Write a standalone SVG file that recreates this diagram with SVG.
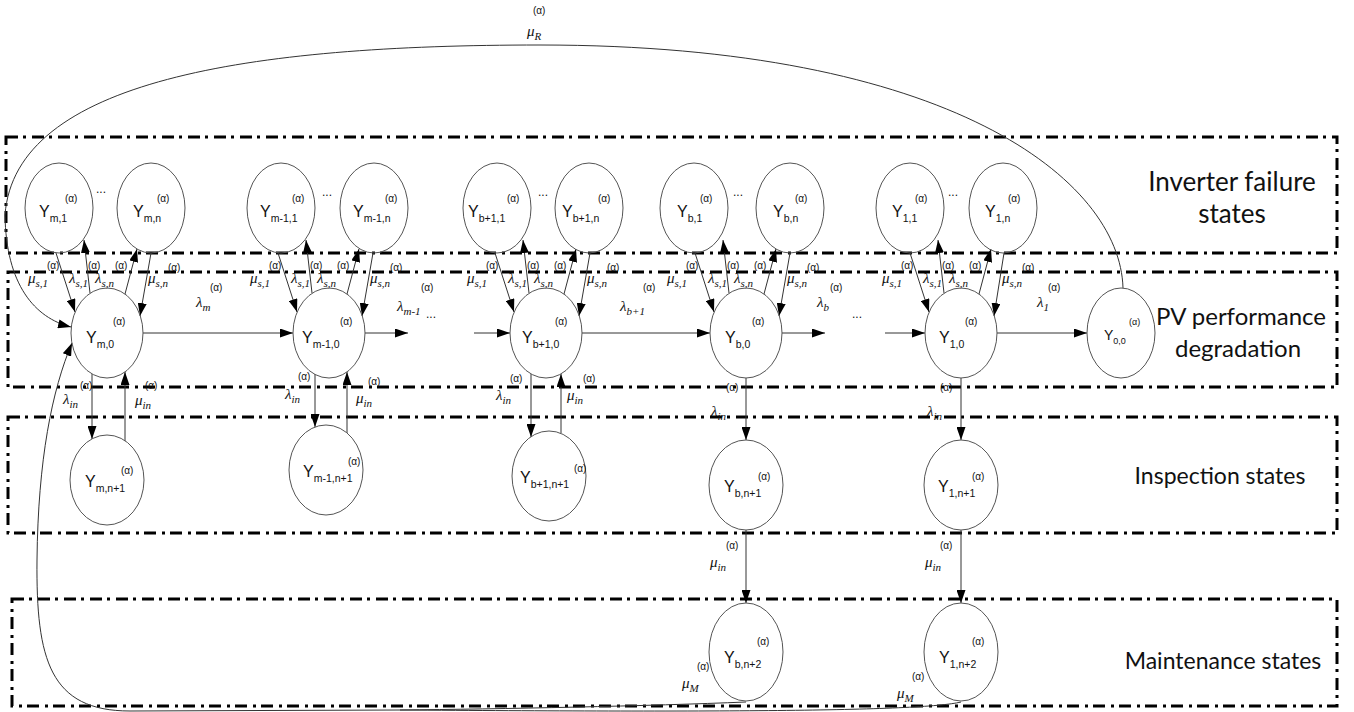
<svg xmlns="http://www.w3.org/2000/svg" width="1354" height="712" viewBox="0 0 1354 712">
<defs>
<marker id="ah" viewBox="0 0 13 9" refX="13" refY="4.5" markerWidth="13" markerHeight="9" markerUnits="userSpaceOnUse" orient="auto"><path d="M0,0 L13,4.5 L0,9 z" fill="#000"/></marker>
</defs>
<style>
.box{fill:none;stroke:#000;stroke-width:3;stroke-dasharray:12 5 3 6}
.nd{fill:none;stroke:#555;stroke-width:1}
.Y{font-family:"Liberation Sans",Arial,sans-serif;font-size:16px;fill:#111}
.sb{font-size:10.5px}
.al{font-family:"Liberation Sans",Arial,sans-serif;font-size:10px;fill:#111}
.g{font-family:"Liberation Serif","Times New Roman",serif;font-style:italic;font-size:15px;fill:#111}
.gs{font-size:11px}
.ln{fill:none;stroke:#333;stroke-width:1}
.ar{marker-end:url(#ah)}
.rt{font-family:Lato,"Open Sans",sans-serif;font-size:25px;fill:#111;text-anchor:middle}
.dt{font-family:"Liberation Sans",Arial,sans-serif;font-size:12px;fill:#111}
</style>
<rect width="1354" height="712" fill="#fff"/>

<g id="regions">
<rect class="box" x="6" y="137" width="1331" height="116"/>
<rect class="box" x="8" y="272" width="1329" height="115"/>
<rect class="box" x="8" y="417" width="1329" height="116"/>
<rect class="box" x="12" y="599" width="1325" height="107"/>
<text class="rt" x="1232" y="191" style="font-size:26px">Inverter failure</text>
<text class="rt" x="1232" y="223" style="font-size:26px">states</text>
<text class="rt" x="1241" y="325" style="font-size:24px">PV performance</text>
<text class="rt" x="1238" y="357" style="font-size:24px">degradation</text>
<text class="rt" x="1220" y="484" style="font-size:23px">Inspection states</text>
<text class="rt" x="1223" y="669" style="font-size:23px">Maintenance states</text>
</g>

<g id="connectors">
<!-- group m, p=107 -->
<line class="ln ar" x1="56" y1="253" x2="75" y2="312"/>
<line class="ln ar" x1="90" y1="293" x2="84" y2="240"/>
<line class="ln ar" x1="125" y1="294" x2="137" y2="249"/>
<line class="ln ar" x1="151" y1="253" x2="140" y2="316"/>
<!-- group m-1, p=329 -->
<line class="ln ar" x1="278" y1="253" x2="297" y2="312"/>
<line class="ln ar" x1="312" y1="293" x2="306" y2="240"/>
<line class="ln ar" x1="347" y1="294" x2="359" y2="249"/>
<line class="ln ar" x1="373" y1="253" x2="362" y2="316"/>
<!-- group b+1, p=546 -->
<line class="ln ar" x1="495" y1="253" x2="514" y2="312"/>
<line class="ln ar" x1="529" y1="293" x2="523" y2="240"/>
<line class="ln ar" x1="564" y1="294" x2="576" y2="249"/>
<line class="ln ar" x1="590" y1="253" x2="579" y2="316"/>
<!-- group b, p=746 -->
<line class="ln ar" x1="695" y1="253" x2="714" y2="312"/>
<line class="ln ar" x1="729" y1="293" x2="723" y2="240"/>
<line class="ln ar" x1="764" y1="294" x2="776" y2="249"/>
<line class="ln ar" x1="790" y1="253" x2="779" y2="316"/>
<!-- group 1, p=961 -->
<line class="ln ar" x1="910" y1="253" x2="929" y2="312"/>
<line class="ln ar" x1="944" y1="293" x2="938" y2="240"/>
<line class="ln ar" x1="979" y1="294" x2="991" y2="249"/>
<line class="ln ar" x1="1004" y1="253" x2="994" y2="316"/>
<!-- horizontal chain -->
<line class="ln ar" x1="143" y1="333" x2="293" y2="333"/>
<line class="ln ar" x1="365" y1="333" x2="408" y2="333"/>
<line class="ln ar" x1="474" y1="333" x2="510" y2="333"/>
<line class="ln ar" x1="582" y1="333" x2="710" y2="333"/>
<line class="ln ar" x1="782" y1="333" x2="825" y2="333"/>
<line class="ln ar" x1="885" y1="333" x2="925" y2="333"/>
<line class="ln ar" x1="997" y1="333" x2="1087" y2="333"/>
<!-- PV <-> inspection -->
<line class="ln ar" x1="92" y1="374" x2="92" y2="439"/>
<line class="ln ar" x1="125" y1="441" x2="125" y2="372"/>
<line class="ln ar" x1="315" y1="374" x2="315" y2="427"/>
<line class="ln ar" x1="347" y1="433" x2="347" y2="372"/>
<line class="ln ar" x1="531" y1="374" x2="531" y2="437"/>
<line class="ln ar" x1="561" y1="433" x2="561" y2="374"/>
<line class="ln ar" x1="746" y1="378" x2="746" y2="440"/>
<line class="ln ar" x1="961" y1="378" x2="961" y2="440"/>
<!-- inspection -> maintenance -->
<line class="ln ar" x1="746" y1="530" x2="746" y2="603"/>
<line class="ln ar" x1="961" y1="530" x2="961" y2="603"/>
<!-- repair curve -->
<path class="ln ar" d="M1123,288 C1120,180 950,45 540,45 C250,45 15,80 5,215 C6,285 35,318 71,327"/>
<!-- maintenance back curves -->
<path class="ln ar" d="M746,702 C650,706 500,709 400,710 L130,711 C50,711 36,660 37,560 C38,460 52,390 72,343"/>
<path class="ln" d="M961,702 C920,712 700,712 400,710"/>
</g>

<g id="labels">
<!-- group m -->
<text class="al" x="47" y="269">(α)</text><text class="g" x="28" y="283">μ<tspan class="gs" dy="4">s,1</tspan></text>
<text class="al" x="88" y="269">(α)</text><text class="g" x="69" y="283">λ<tspan class="gs" dy="4">s,1</tspan></text>
<text class="al" x="115" y="269">(α)</text><text class="g" x="95" y="283">λ<tspan class="gs" dy="4">s,n</tspan></text>
<text class="al" x="168" y="271">(α)</text><text class="g" x="148" y="283">μ<tspan class="gs" dy="4">s,n</tspan></text>
<!-- group m-1 -->
<text class="al" x="269" y="269">(α)</text><text class="g" x="250" y="283">μ<tspan class="gs" dy="4">s,1</tspan></text>
<text class="al" x="310" y="269">(α)</text><text class="g" x="291" y="283">λ<tspan class="gs" dy="4">s,1</tspan></text>
<text class="al" x="337" y="269">(α)</text><text class="g" x="317" y="283">λ<tspan class="gs" dy="4">s,n</tspan></text>
<text class="al" x="390" y="271">(α)</text><text class="g" x="370" y="283">μ<tspan class="gs" dy="4">s,n</tspan></text>
<!-- group b+1 -->
<text class="al" x="486" y="269">(α)</text><text class="g" x="467" y="283">μ<tspan class="gs" dy="4">s,1</tspan></text>
<text class="al" x="527" y="269">(α)</text><text class="g" x="508" y="283">λ<tspan class="gs" dy="4">s,1</tspan></text>
<text class="al" x="554" y="269">(α)</text><text class="g" x="534" y="283">λ<tspan class="gs" dy="4">s,n</tspan></text>
<text class="al" x="607" y="271">(α)</text><text class="g" x="587" y="283">μ<tspan class="gs" dy="4">s,n</tspan></text>
<!-- group b -->
<text class="al" x="686" y="269">(α)</text><text class="g" x="667" y="283">μ<tspan class="gs" dy="4">s,1</tspan></text>
<text class="al" x="727" y="269">(α)</text><text class="g" x="708" y="283">λ<tspan class="gs" dy="4">s,1</tspan></text>
<text class="al" x="754" y="269">(α)</text><text class="g" x="734" y="283">λ<tspan class="gs" dy="4">s,n</tspan></text>
<text class="al" x="807" y="271">(α)</text><text class="g" x="787" y="283">μ<tspan class="gs" dy="4">s,n</tspan></text>
<!-- group 1 -->
<text class="al" x="901" y="269">(α)</text><text class="g" x="882" y="283">μ<tspan class="gs" dy="4">s,1</tspan></text>
<text class="al" x="942" y="269">(α)</text><text class="g" x="923" y="283">λ<tspan class="gs" dy="4">s,1</tspan></text>
<text class="al" x="969" y="269">(α)</text><text class="g" x="949" y="283">λ<tspan class="gs" dy="4">s,n</tspan></text>
<text class="al" x="1022" y="271">(α)</text><text class="g" x="1002" y="283">μ<tspan class="gs" dy="4">s,n</tspan></text>
<!-- chain labels -->
<text class="al" x="210" y="291">(α)</text><text class="g" x="196" y="307">λ<tspan class="gs" dy="4">m</tspan></text>
<text class="al" x="421" y="291">(α)</text><text class="g" x="397" y="311">λ<tspan class="gs" dy="4">m-1</tspan></text>
<text class="dt" x="426" y="318">...</text>
<text class="al" x="643" y="291">(α)</text><text class="g" x="620" y="311">λ<tspan class="gs" dy="4">b+1</tspan></text>
<text class="al" x="830" y="291">(α)</text><text class="g" x="817" y="307">λ<tspan class="gs" dy="4">b</tspan></text>
<text class="dt" x="852" y="318">...</text>
<text class="al" x="1048" y="291">(α)</text><text class="g" x="1037" y="307">λ<tspan class="gs" dy="4">1</tspan></text>
<!-- inspection labels -->
<text class="al" x="80" y="389">(α)</text><text class="g" x="63" y="404">λ<tspan class="gs" dy="4">in</tspan></text>
<text class="al" x="145" y="389">(α)</text><text class="g" x="135" y="405">μ<tspan class="gs" dy="4">in</tspan></text>
<text class="al" x="298" y="380">(α)</text><text class="g" x="285" y="399">λ<tspan class="gs" dy="4">in</tspan></text>
<text class="al" x="368" y="385">(α)</text><text class="g" x="356" y="403">μ<tspan class="gs" dy="4">in</tspan></text>
<text class="al" x="510" y="382">(α)</text><text class="g" x="496" y="400">λ<tspan class="gs" dy="4">in</tspan></text>
<text class="al" x="583" y="382">(α)</text><text class="g" x="567" y="400">μ<tspan class="gs" dy="4">in</tspan></text>
<text class="al" x="726" y="391">(α)</text><text class="g" x="711" y="416">λ<tspan class="gs" dy="4">in</tspan></text>
<text class="al" x="940" y="391">(α)</text><text class="g" x="927" y="416">λ<tspan class="gs" dy="4">in</tspan></text>
<text class="al" x="726" y="549">(α)</text><text class="g" x="710" y="567">μ<tspan class="gs" dy="4">in</tspan></text>
<text class="al" x="940" y="549">(α)</text><text class="g" x="925" y="567">μ<tspan class="gs" dy="4">in</tspan></text>
<text class="al" x="697" y="670">(α)</text><text class="g" x="682" y="688">μ<tspan class="gs" dy="4">M</tspan></text>
<text class="al" x="912" y="680">(α)</text><text class="g" x="897" y="698">μ<tspan class="gs" dy="4">M</tspan></text>
<text class="al" x="533" y="14">(α)</text><text class="g" x="527" y="36">μ<tspan class="gs" dy="4">R</tspan></text>
<!-- dots between inverter states -->
<text class="dt" x="96" y="193">...</text>
<text class="dt" x="322" y="196">...</text>
<text class="dt" x="538" y="196">...</text>
<text class="dt" x="733" y="196">...</text>
<text class="dt" x="948" y="196">...</text>
</g>

<!-- inverter failure states -->
<g id="n-m1"><ellipse class="nd" cx="59" cy="208" rx="34" ry="45"/><text class="Y" x="39" y="217">Y<tspan class="sb" dy="5">m,1</tspan></text><text class="al" x="65" y="202">(α)</text></g>
<g id="n-mn"><ellipse class="nd" cx="151" cy="208" rx="34" ry="45"/><text class="Y" x="133" y="217">Y<tspan class="sb" dy="5">m,n</tspan></text><text class="al" x="157" y="202">(α)</text></g>
<g id="n-m-1_1"><ellipse class="nd" cx="281" cy="208" rx="34" ry="45"/><text class="Y" x="260" y="217">Y<tspan class="sb" dy="5">m-1,1</tspan></text><text class="al" x="292" y="202">(α)</text></g>
<g id="n-m-1_n"><ellipse class="nd" cx="374" cy="208" rx="34" ry="45"/><text class="Y" x="353" y="217">Y<tspan class="sb" dy="5">m-1,n</tspan></text><text class="al" x="385" y="202">(α)</text></g>
<g id="n-b+1_1"><ellipse class="nd" cx="497" cy="208" rx="34" ry="45"/><text class="Y" x="468" y="217">Y<tspan class="sb" dy="5">b+1,1</tspan></text><text class="al" x="507" y="202">(α)</text></g>
<g id="n-b+1_n"><ellipse class="nd" cx="589" cy="208" rx="34" ry="45"/><text class="Y" x="562" y="217">Y<tspan class="sb" dy="5">b+1,n</tspan></text><text class="al" x="598" y="202">(α)</text></g>
<g id="n-b_1"><ellipse class="nd" cx="694" cy="208" rx="34" ry="45"/><text class="Y" x="677" y="217">Y<tspan class="sb" dy="5">b,1</tspan></text><text class="al" x="700" y="202">(α)</text></g>
<g id="n-b_n"><ellipse class="nd" cx="790" cy="208" rx="34" ry="45"/><text class="Y" x="773" y="217">Y<tspan class="sb" dy="5">b,n</tspan></text><text class="al" x="795" y="202">(α)</text></g>
<g id="n-1_1"><ellipse class="nd" cx="910" cy="208" rx="34" ry="45"/><text class="Y" x="892" y="217">Y<tspan class="sb" dy="5">1,1</tspan></text><text class="al" x="915" y="202">(α)</text></g>
<g id="n-1_n"><ellipse class="nd" cx="1003" cy="208" rx="34" ry="45"/><text class="Y" x="985" y="217">Y<tspan class="sb" dy="5">1,n</tspan></text><text class="al" x="1008" y="202">(α)</text></g>

<!-- PV performance states -->
<g id="n-m_0"><ellipse class="nd" cx="107" cy="333" rx="36" ry="45"/><text class="Y" x="86" y="343">Y<tspan class="sb" dy="5">m,0</tspan></text><text class="al" x="113" y="325">(α)</text></g>
<g id="n-m-1_0"><ellipse class="nd" cx="329" cy="333" rx="36" ry="45"/><text class="Y" x="302" y="343">Y<tspan class="sb" dy="5">m-1,0</tspan></text><text class="al" x="340" y="325">(α)</text></g>
<g id="n-b+1_0"><ellipse class="nd" cx="546" cy="333" rx="36" ry="45"/><text class="Y" x="522" y="343">Y<tspan class="sb" dy="5">b+1,0</tspan></text><text class="al" x="555" y="325">(α)</text></g>
<g id="n-b_0"><ellipse class="nd" cx="746" cy="333" rx="36" ry="45"/><text class="Y" x="725" y="343">Y<tspan class="sb" dy="5">b,0</tspan></text><text class="al" x="752" y="325">(α)</text></g>
<g id="n-1_0"><ellipse class="nd" cx="961" cy="333" rx="36" ry="45"/><text class="Y" x="939" y="343">Y<tspan class="sb" dy="5">1,0</tspan></text><text class="al" x="965" y="325">(α)</text></g>
<g id="n-0_0"><ellipse class="nd" cx="1121" cy="333" rx="34" ry="45"/><text class="Y" x="1104" y="340" style="font-size:14px">Y<tspan class="sb" dy="4" style="font-size:9px">0,0</tspan></text><text class="al" x="1129" y="325" style="font-size:9px">(α)</text></g>

<!-- inspection states -->
<g id="n-m_n+1"><ellipse class="nd" cx="107" cy="480" rx="37" ry="45"/><text class="Y" x="85" y="487">Y<tspan class="sb" dy="5">m,n+1</tspan></text><text class="al" x="121" y="474">(α)</text></g>
<g id="n-m-1_n+1"><ellipse class="nd" cx="326" cy="470" rx="37" ry="45"/><text class="Y" x="303" y="477">Y<tspan class="sb" dy="5">m-1,n+1</tspan></text><text class="al" x="348" y="465">(α)</text></g>
<g id="n-b+1_n+1"><ellipse class="nd" cx="549" cy="476" rx="37" ry="45"/><text class="Y" x="520" y="483">Y<tspan class="sb" dy="5">b+1,n+1</tspan></text><text class="al" x="574" y="472">(α)</text></g>
<g id="n-b_n+1"><ellipse class="nd" cx="746" cy="485" rx="37" ry="45"/><text class="Y" x="724" y="492">Y<tspan class="sb" dy="5">b,n+1</tspan></text><text class="al" x="758" y="480">(α)</text></g>
<g id="n-1_n+1"><ellipse class="nd" cx="961" cy="485" rx="37" ry="45"/><text class="Y" x="938" y="492">Y<tspan class="sb" dy="5">1,n+1</tspan></text><text class="al" x="972" y="480">(α)</text></g>

<!-- maintenance states -->
<g id="n-b_n+2"><ellipse class="nd" cx="746" cy="652" rx="37" ry="49"/><text class="Y" x="724" y="663">Y<tspan class="sb" dy="5">b,n+2</tspan></text><text class="al" x="757" y="645">(α)</text></g>
<g id="n-1_n+2"><ellipse class="nd" cx="961" cy="652" rx="37" ry="49"/><text class="Y" x="939" y="663">Y<tspan class="sb" dy="5">1,n+2</tspan></text><text class="al" x="972" y="645">(α)</text></g>
</svg>
